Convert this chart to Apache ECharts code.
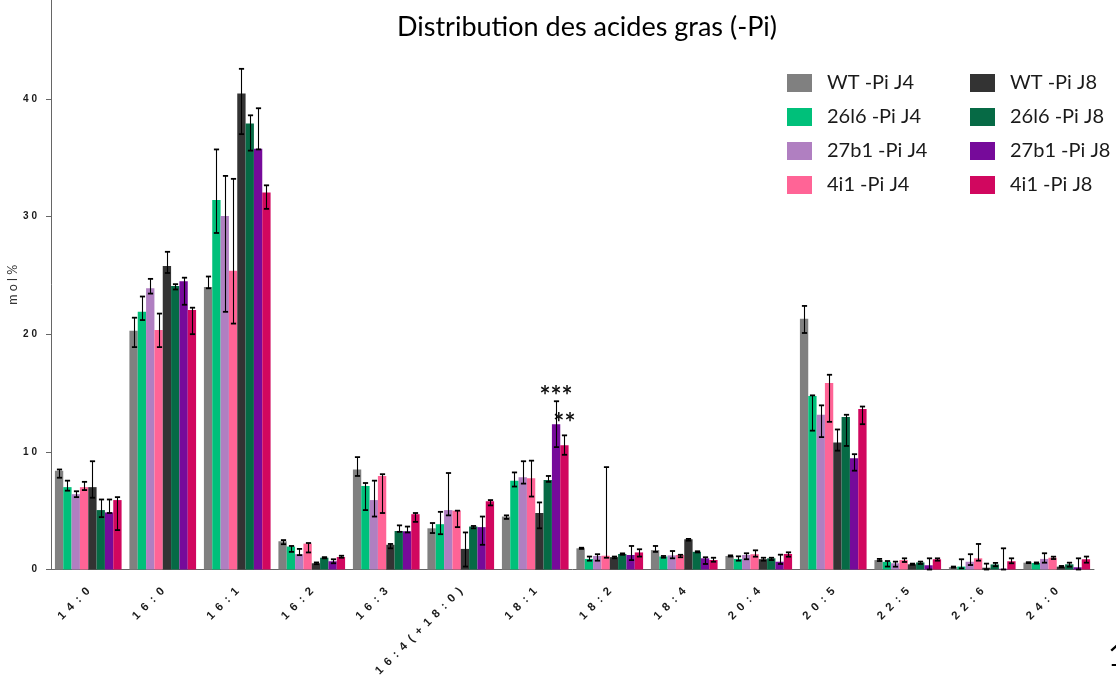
<!DOCTYPE html>
<html>
<head>
<meta charset="utf-8">
<script src="https://cdn.jsdelivr.net/npm/echarts@6/dist/echarts.min.js"></script>
<style>
  html, body { margin: 0; padding: 0; background: #ffffff; }
  #chart { width: 1116px; height: 675px; }
</style>
</head>
<body>
<div id="chart"></div>
<script>
// Fatty acid species (x axis)
const categories = ['14:0', '16:0', '16:1', '16:2', '16:3', '16:4 (+18:0)', '18:1', '18:2', '18:4', '20:4', '20:5', '22:5', '22:6', '24:0'];

// Y axis ticks
const yTicks = [0, 10, 20, 30, 40];

// Series names and colours
const seriesNames = ['WT -Pi J4', '26l6 -Pi J4', '27b1 -Pi J4', '4i1 -Pi J4', 'WT -Pi J8', '26l6 -Pi J8', '27b1 -Pi J8', '4i1 -Pi J8'];
const seriesColors = ['#808080', '#00c07a', '#b07fc1', '#ff6496', '#333333', '#066a45', '#760a9a', '#d1075f'];

// mol % means, with lower / upper whisker ends
const wtJ4 = [8.4, 20.3, 24.0, 2.4, 8.5, 3.5, 4.5, 1.8, 1.65, 1.15, 21.3, 0.8, 0.2, 0.58];
const wtJ4Lo = [7.8, 18.9, 23.9, 2.15, 7.95, 3.1, 4.3, 1.75, 1.5, 1.1, 20.1, 0.72, 0.15, 0.54];
const wtJ4Hi = [8.5, 21.4, 24.9, 2.5, 9.55, 3.95, 4.6, 1.85, 2.0, 1.2, 22.4, 0.9, 0.25, 0.62];

const l26J4 = [7.0, 21.9, 31.4, 1.95, 7.1, 3.85, 7.55, 0.9, 1.1, 0.9, 14.75, 0.65, 0.25, 0.55];
const l26J4Lo = [6.7, 21.2, 28.6, 1.5, 5.05, 3.0, 7.05, 0.75, 1.0, 0.75, 11.8, 0.25, 0.1, 0.5];
const l26J4Hi = [7.55, 23.2, 35.7, 2.0, 7.35, 4.9, 8.25, 1.1, 1.15, 1.12, 14.8, 0.72, 0.87, 0.6];

const b27J4 = [6.4, 23.9, 30.05, 1.3, 5.9, 5.05, 7.85, 1.15, 1.2, 1.23, 13.15, 0.53, 0.66, 0.9];
const b27J4Lo = [6.15, 23.45, 21.9, 1.22, 4.5, 4.6, 7.3, 0.75, 0.95, 0.87, 11.25, 0.24, 0.38, 0.58];
const b27J4Hi = [6.65, 24.7, 33.45, 1.75, 7.55, 8.2, 9.2, 1.3, 1.57, 1.38, 13.95, 0.67, 1.3, 1.38];

const i4J4 = [7.0, 20.35, 25.4, 2.2, 7.95, 5.0, 7.75, 1.17, 1.23, 1.3, 15.85, 0.8, 0.95, 1.0];
const i4J4Lo = [6.75, 18.9, 20.9, 1.45, 4.8, 3.6, 6.2, 1.0, 1.04, 1.09, 12.55, 0.64, 0.75, 0.89];
const i4J4Hi = [7.45, 21.75, 33.2, 2.25, 8.1, 5.0, 9.25, 8.7, 1.25, 1.63, 16.55, 0.95, 2.17, 1.09];

const wtJ8 = [7.0, 25.8, 40.45, 0.53, 2.1, 1.75, 4.8, 1.05, 2.57, 0.88, 10.8, 0.44, 0.15, 0.24];
const wtJ8Lo = [6.1, 25.2, 37.0, 0.45, 1.8, 0.25, 3.5, 0.95, 2.45, 0.75, 10.1, 0.4, 0.0, 0.2];
const wtJ8Hi = [9.2, 27.0, 42.55, 0.6, 2.17, 3.15, 5.7, 1.1, 2.6, 1.0, 11.9, 0.5, 0.5, 0.3];

const l26J8 = [5.05, 24.1, 37.9, 1.0, 3.27, 3.65, 7.6, 1.32, 1.5, 0.95, 12.95, 0.6, 0.43, 0.44];
const l26J8Lo = [4.45, 23.8, 35.6, 0.95, 3.2, 3.5, 7.45, 1.25, 1.45, 0.8, 10.5, 0.47, 0.28, 0.24];
const l26J8Hi = [5.95, 24.25, 38.6, 1.05, 3.75, 3.7, 7.95, 1.37, 1.55, 1.0, 13.15, 0.67, 0.56, 0.58];

const b27J8 = [4.85, 24.5, 35.75, 0.7, 3.25, 3.6, 12.35, 1.23, 0.95, 0.66, 9.45, 0.36, 0.06, 0.19];
const b27J8Lo = [4.8, 22.5, 35.7, 0.53, 3.15, 2.1, 10.4, 0.8, 0.47, 0.47, 8.4, 0.0, 0.0, 0.0];
const b27J8Hi = [5.95, 24.8, 39.2, 0.87, 3.65, 4.5, 14.3, 2.0, 1.04, 1.26, 9.8, 0.95, 1.8, 0.95];

const i4J8 = [5.9, 22.05, 32.05, 1.06, 4.7, 5.8, 10.55, 1.45, 0.81, 1.32, 13.65, 0.87, 0.7, 0.87];
const i4J8Lo = [3.35, 20.0, 30.65, 1.0, 4.05, 5.45, 9.75, 1.1, 0.66, 1.09, 12.35, 0.75, 0.53, 0.58];
const i4J8Hi = [6.15, 22.25, 32.65, 1.17, 4.8, 5.9, 11.4, 1.72, 1.0, 1.46, 13.85, 0.95, 0.95, 1.1];

// Significance marks: [series index, category index, text]
const starMarks = [[6, 6, '***'], [7, 6, '**']];

const means = [wtJ4, l26J4, b27J4, i4J4, wtJ8, l26J8, b27J8, i4J8];
const lows = [wtJ4Lo, l26J4Lo, b27J4Lo, i4J4Lo, wtJ8Lo, l26J8Lo, b27J8Lo, i4J8Lo];
const highs = [wtJ4Hi, l26J4Hi, b27J4Hi, i4J4Hi, wtJ8Hi, l26J8Hi, b27J8Hi, i4J8Hi];

const CATEGORY_GAP = 0.105;
const N = seriesNames.length;
const spaced = s => s.replace(/ /g, '').split('').join('\u2002');

const barSeries = seriesNames.map((name, k) => ({
  name,
  type: 'bar',
  barGap: '0%',
  barCategoryGap: (CATEGORY_GAP * 100) + '%',
  itemStyle: { color: seriesColors[k] },
  emphasis: { disabled: true },
  z: 2,
  data: means[k].map((v, i) => {
    const mark = starMarks.find(m => m[0] === k && m[1] === i);
    if (!mark) return v;
    return {
      value: v,
      label: {
        show: true,
        position: 'top',
        distance: k === 6 ? 15 : 9,
        formatter: mark[2],
        fontFamily: 'Lato',
        fontWeight: 'bold',
        fontSize: 26,
        color: '#111'
      }
    };
  })
}));

const errorSeries = seriesNames.map((name, k) => ({
  name: name + ' err',
  type: 'custom',
  z: 5,
  silent: true,
  encode: { x: 0, y: [1, 2] },
  data: means[k].map((v, i) => [i, lows[k][i], highs[k][i]]),
  renderItem: (params, api) => {
    const cat = api.value(0);
    const pLo = api.coord([cat, api.value(1)]);
    const pHi = api.coord([cat, api.value(2)]);
    const catW = api.size([1, 0])[0];
    const bw = catW * (1 - CATEGORY_GAP) / N;
    const x = Math.round(pLo[0] + (k - (N - 1) / 2) * bw) + 0.5;
    const cap = 2.6;
    const st = { stroke: '#000', lineWidth: 1.1 };
    const capSt = { stroke: '#000', lineWidth: 1.8 };
    return {
      type: 'group',
      children: [
        { type: 'line', shape: { x1: x, y1: pLo[1], x2: x, y2: pHi[1] }, style: st },
        { type: 'line', shape: { x1: x - cap, y1: pHi[1], x2: x + cap, y2: pHi[1] }, style: capSt },
        { type: 'line', shape: { x1: x - cap, y1: pLo[1], x2: x + cap, y2: pLo[1] }, style: capSt }
      ]
    };
  }
}));

const legendBase = {
  orient: 'vertical',
  icon: 'rect',
  itemWidth: 25,
  itemHeight: 18,
  itemGap: 14,
  top: 73,
  padding: 0,
  selectedMode: false,
  textStyle: { fontFamily: 'Lato', fontSize: 20, color: '#1a1a1a', lineHeight: 20, padding: [0, 0, 0, 10] }
};

const chart = echarts.init(document.getElementById('chart'), null, { renderer: 'canvas' });
chart.setOption({
  animation: false,
  backgroundColor: '#ffffff',
  title: {
    text: 'Distribution des acides gras (-Pi)',
    left: 582,
    textAlign: 'center',
    top: 9,
    textStyle: { fontFamily: 'Lato', fontSize: 27, fontWeight: 'normal', color: '#000' }
  },
  legend: [
    Object.assign({}, legendBase, { left: 787, data: seriesNames.slice(0, 4) }),
    Object.assign({}, legendBase, { left: 970, data: seriesNames.slice(4) })
  ],
  grid: { left: 51, right: 22, top: 0, bottom: 105.5, containLabel: false, outerBoundsMode: 'none' },
  xAxis: {
    type: 'category',
    data: categories,
    axisLine: { lineStyle: { color: '#666', width: 1 } },
    axisTick: { alignWithLabel: true, length: 5, lineStyle: { color: '#333' } },
    axisLabel: {
      interval: 0,
      rotate: 45,
      margin: 20,
      formatter: spaced,
      fontFamily: 'Liberation Sans',
      fontWeight: 'bold',
      fontSize: 11.5,
      color: '#1a1a1a'
    }
  },
  yAxis: {
    type: 'value',
    min: yTicks[0],
    max: 48.4,
    interval: yTicks[1] - yTicks[0],
    name: 'm o l %',
    nameLocation: 'middle',
    nameGap: 32,
    nameMoveOverlap: false,
    nameTextStyle: { fontFamily: 'Lato', fontSize: 12.5, color: '#333' },
    axisLine: { show: true, lineStyle: { color: '#666', width: 1 } },
    axisTick: { show: true, length: 5, customValues: yTicks, lineStyle: { color: '#666' } },
    splitLine: { show: false },
    axisLabel: {
      margin: 14,
      customValues: yTicks,
      formatter: v => String(v).split('').join(' '),
      fontFamily: 'Liberation Sans',
      fontWeight: 'bold',
      fontSize: 10,
      color: '#1a1a1a'
    }
  },
  graphic: [{
    type: 'text',
    left: 1108,
    top: 641,
    style: { text: '1', fontFamily: 'Lato', fontSize: 30, fill: '#000' }
  }],
  series: barSeries.concat(errorSeries)
});
</script>
</body>
</html>
